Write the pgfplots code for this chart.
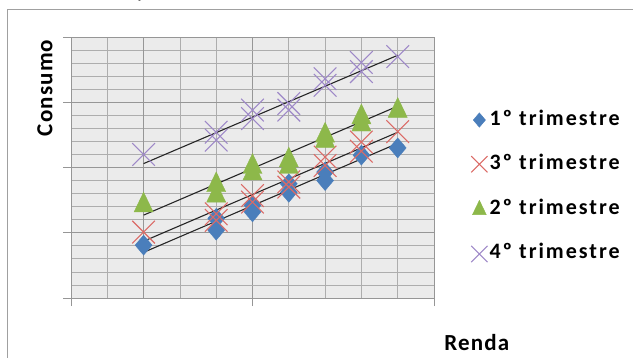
\documentclass[border=0pt]{standalone}
\usepackage{fontspec}
\setmainfont{Carlito}
\usepackage{pgfplots}
\pgfplotsset{compat=1.18}

\definecolor{serA}{HTML}{4A7EBB}
\definecolor{serB}{HTML}{DB6A66}
\definecolor{serC}{HTML}{8DB84A}
\definecolor{serD}{HTML}{9E88C8}
\definecolor{plotbg}{HTML}{EBEBEB}
\definecolor{gridmaj}{HTML}{969696}
\definecolor{gridmin}{HTML}{ADADAD}
\definecolor{framec}{HTML}{A0A0A0}

\begin{document}
\begin{tikzpicture}[x=1bp,y=1bp]
\useasboundingbox (0,0) rectangle (633,357);
% chart frame
\draw[framec, line width=1bp] (7,-5) -- (7,347) -- (640,347);
% descender of the cut-off title
\node[anchor=base, font=\fontsize{22bp}{24bp}\selectfont, inner sep=0pt] at (143,359) {p};
\begin{axis}[
  at={(71bp,59bp)}, anchor=south west,
  scale only axis, width=363bp, height=261bp,
  xmin=0, xmax=10, ymin=0, ymax=4,
  xtick={0,5,10}, ytick={0,1,2,3,4},
  minor x tick num=4, minor y tick num=4,
  xticklabels={}, yticklabels={},
  tick pos=left, tick align=outside,
  major tick length=8bp, minor tick length=0pt,
  grid=both,
  major grid style={gridmaj, line width=0.9bp},
  minor grid style={gridmin, line width=0.8bp},
  extra y ticks={2}, extra y tick labels={},
  extra y tick style={grid style={black!55, line width=1.3bp}},
  extra x ticks={2}, extra x tick labels={},
  extra x tick style={major tick length=0pt, grid style={gridmaj, line width=0.9bp}},
  axis background/.style={fill=plotbg},
  axis line style={gridmaj, line width=0.9bp},
  tick style={gridmaj, line width=0.9bp},
  xlabel={\addfontfeature{LetterSpace=5}\bfseries Renda},
  ylabel={\addfontfeature{LetterSpace=5}\bfseries Consumo},
  label style={font=\fontsize{23bp}{26bp}\selectfont},
  xlabel style={at={(rel axis cs:1.118,-0.172)}, anchor=center},
  ylabel style={at={(rel axis cs:-0.0716,0.805)}, anchor=center, rotate=0},
  legend style={at={(rel axis cs:1.102,0.425)}, anchor=west, draw=none, fill=none,
    inner sep=0pt, row sep=28bp, column sep=2bp,
    font=\fontsize{22bp}{24bp}\selectfont\bfseries\addfontfeature{LetterSpace=9},
    nodes={inner sep=0pt, text height=13bp, text depth=3bp}},
  legend cell align=left,
  legend image code/.code={\draw[mark repeat=2,mark phase=2,#1] plot coordinates {(0bp,0bp)(9bp,0bp)(18bp,0bp)};},
  legend image post style={every mark/.append style={scale=0.72}},
]
% 1º trimestre
\addplot[only marks, mark=diamond*, mark size=10bp, color=serA,
  mark options={xscale=1.13, fill=serA, draw=serA}] coordinates {
  (2,0.81) (4,1.22) (4,1.04) (5,1.42) (5,1.32) (6,1.75) (6,1.62)
  (7,1.93) (7,1.80) (8,2.19) (9,2.30)};
\addlegendentry{1º trimestre}
% 3º trimestre
\addplot[only marks, mark=x, mark size=16bp, color=serB, line width=1.1bp] coordinates {
  (2,1.01) (4,1.29) (4,1.19) (5,1.57) (5,1.47) (6,1.78) (6,1.70)
  (7,2.16) (7,2.03) (8,2.39) (8,2.25) (9,2.55)};
\addlegendentry{3º trimestre}
% 2º trimestre
\addplot[only marks, mark=triangle*, mark size=11bp, color=serC,
  mark options={yscale=1.2, fill=serC, draw=serC}] coordinates {
  (2,1.42) (4,1.73) (4,1.57) (5,2.01) (5,1.91) (6,2.11) (6,2.01)
  (7,2.49) (7,2.41) (8,2.77) (8,2.66) (9,2.87)};
\addlegendentry{2º trimestre}
% 4º trimestre
\addplot[only marks, mark=x, mark size=16bp, color=serD, line width=1.1bp] coordinates {
  (2,2.20) (4,2.54) (4,2.42) (5,2.88) (5,2.75) (6,2.98) (6,2.88)
  (7,3.36) (7,3.26) (8,3.61) (8,3.47) (9,3.70)};
\addlegendentry{4º trimestre}
% linear trend lines
\addplot[forget plot, black!85, line width=1.1bp] coordinates {(2,0.70) (9,2.37)};
\addplot[forget plot, black!85, line width=1.1bp] coordinates {(2,0.87) (9,2.54)};
\addplot[forget plot, black!85, line width=1.1bp] coordinates {(2,1.27) (9,2.94)};
\addplot[forget plot, black!85, line width=1.1bp] coordinates {(2,2.06) (9,3.72)};
\end{axis}
\end{tikzpicture}
\end{document}
